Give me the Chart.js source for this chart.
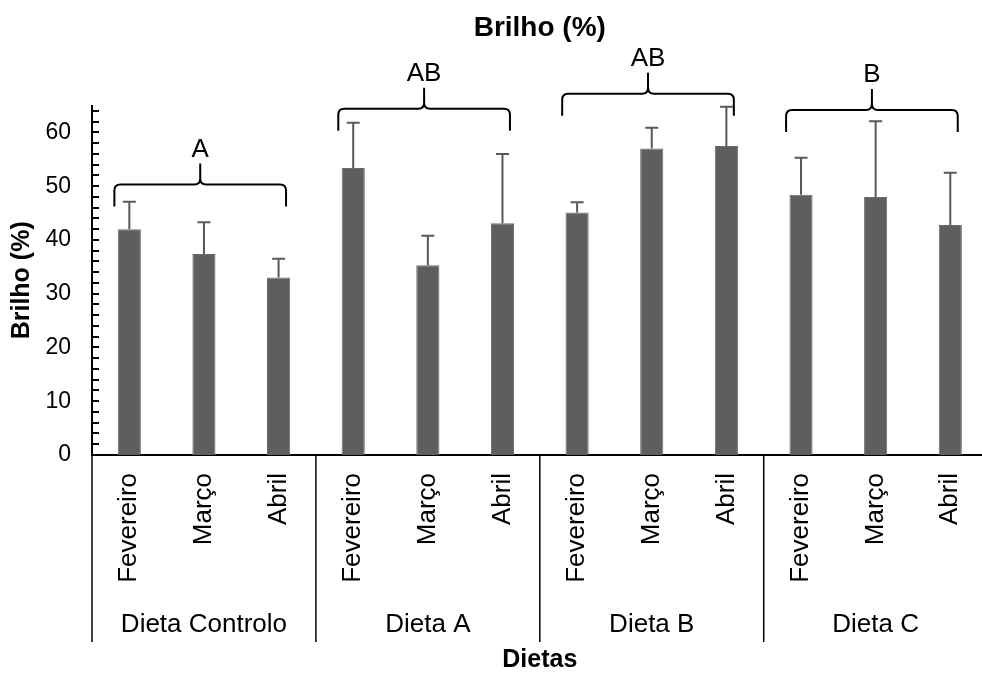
<!DOCTYPE html>
<html>
<head>
    <meta charset="utf-8">
    <title>Brilho (%)</title>
    <script src="https://cdn.jsdelivr.net/npm/chart.js"></script>
    <style>
        body { margin: 0; overflow: hidden; background: #fff; }
        #wrap { width: 1000px; height: 673px; }
    </style>
</head>
<body>
    <div id="wrap"><canvas id="myChart"></canvas></div>
    <script>
        // Data
        const meses = ['Fevereiro', 'Março', 'Abril', 'Fevereiro', 'Março', 'Abril',
                       'Fevereiro', 'Março', 'Abril', 'Fevereiro', 'Março', 'Abril'];
        const brilho = [42.0, 37.4, 33.0, 53.4, 35.3, 43.1, 45.1, 57.0, 57.5, 48.4, 48.0, 42.8];
        const erro = [5.1, 5.9, 3.5, 8.4, 5.5, 12.9, 1.9, 3.9, 7.3, 6.9, 14.1, 9.7];
        const dietas = ['Dieta Controlo', 'Dieta A', 'Dieta B', 'Dieta C'];
        const letras = ['A', 'AB', 'AB', 'B'];
        const nivelChaveta = [50.3, 64.4, 67.2, 64.2];

        Chart.defaults.font.family = "'Liberation Sans', Arial, sans-serif";
        Chart.defaults.color = '#000';

        // error bars, brackets, group labels, separators, inner ticks
        const extras = {
            id: 'extras',
            afterDatasetsDraw(chart) {
                const ctx = chart.ctx;
                const x = chart.scales.x, y = chart.scales.y;
                ctx.save();

                // error bars (plus only)
                ctx.strokeStyle = '#595959';
                ctx.lineWidth = 2;
                brilho.forEach((v, i) => {
                    const px = x.getPixelForValue(i);
                    const y0 = y.getPixelForValue(v);
                    const y1 = y.getPixelForValue(v + erro[i]);
                    ctx.beginPath();
                    ctx.moveTo(px, y0);
                    ctx.lineTo(px, y1);
                    ctx.moveTo(px - 6.5, y1);
                    ctx.lineTo(px + 6.5, y1);
                    ctx.stroke();
                });

                // y ticks inside axis every 2
                ctx.strokeStyle = '#000';
                ctx.lineWidth = 2;
                for (let v = 0; v <= 64; v += 2) {
                    const py = Math.round(y.getPixelForValue(v));
                    ctx.beginPath();
                    ctx.moveTo(x.left, py);
                    ctx.lineTo(x.left + 7, py);
                    ctx.stroke();
                }

                // brackets with letters
                ctx.lineWidth = 2;
                ctx.strokeStyle = '#000';
                ctx.fillStyle = '#000';
                ctx.font = "26px 'Liberation Sans', Arial";
                ctx.textAlign = 'center';
                ctx.textBaseline = 'alphabetic';
                const step = x.getPixelForValue(1) - x.getPixelForValue(0);
                dietas.forEach((d, g) => {
                    const left = x.getPixelForValue(g * 3) - 0.2 * step;
                    const right = x.getPixelForValue(g * 3 + 2) + 0.1 * step;
                    const mid = (left + right) / 2;
                    const ly = y.getPixelForValue(nivelChaveta[g]);
                    const drop = 22, r = 6, peak = 21;
                    ctx.beginPath();
                    ctx.moveTo(left, ly + drop);
                    ctx.lineTo(left, ly + r);
                    ctx.quadraticCurveTo(left, ly, left + r, ly);
                    ctx.lineTo(mid - r, ly);
                    ctx.quadraticCurveTo(mid, ly, mid, ly - r);
                    ctx.lineTo(mid, ly - peak);
                    ctx.moveTo(mid, ly - r);
                    ctx.quadraticCurveTo(mid, ly, mid + r, ly);
                    ctx.lineTo(right - r, ly);
                    ctx.quadraticCurveTo(right, ly, right, ly + r);
                    ctx.lineTo(right, ly + drop);
                    ctx.stroke();
                    ctx.fillText(letras[g], mid, ly - peak - 7);
                });

                // group separators and labels
                ctx.lineWidth = 1.5;
                const bounds = [x.left];
                for (let g = 1; g < dietas.length; g++) {
                    bounds.push((x.getPixelForValue(g * 3 - 1) + x.getPixelForValue(g * 3)) / 2);
                }
                bounds.push(x.right);
                bounds.forEach(b => {
                    ctx.beginPath();
                    ctx.moveTo(b, y.bottom);
                    ctx.lineTo(b, y.bottom + 187);
                    ctx.stroke();
                });
                ctx.textBaseline = 'middle';
                dietas.forEach((d, g) => {
                    ctx.fillText(d, (bounds[g] + bounds[g + 1]) / 2, 625);
                });
                ctx.restore();
            }
        };

        const ctx = document.getElementById('myChart').getContext('2d');
        new Chart(ctx, {
            type: 'bar',
            data: {
                labels: meses,
                datasets: [{
                    data: brilho,
                    backgroundColor: '#5e5e5e',
                    borderColor: '#6a6a6a',
                    borderWidth: 1,
                    barPercentage: 0.31,
                    categoryPercentage: 1
                }]
            },
            options: {
                responsive: true,
                maintainAspectRatio: false,
                animation: false,
                layout: { padding: { left: 0, right: 7, top: 0, bottom: 0 } },
                scales: {
                    x: {
                        grid: { display: false, drawTicks: false },
                        border: { display: true, color: '#000', width: 2 },
                        ticks: {
                            autoSkip: false,
                            minRotation: 90,
                            maxRotation: 90,
                            padding: 18,
                            font: { size: 26 }
                        },
                        title: {
                            display: true,
                            text: 'Dietas',
                            font: { size: 25, weight: 'bold', lineHeight: 1 },
                            padding: { top: 0, bottom: 0 }
                        },
                        afterFit(scale) { scale.height = 218; }
                    },
                    y: {
                        min: 0,
                        max: 65,
                        grid: { display: false, drawTicks: false },
                        border: { display: true, color: '#000', width: 2 },
                        ticks: {
                            stepSize: 10,
                            padding: 21,
                            font: { size: 23 }
                        },
                        afterBuildTicks(scale) {
                            scale.ticks = scale.ticks.filter(t => t.value % 10 === 0);
                        },
                        title: {
                            display: true,
                            text: 'Brilho (%)',
                            font: { size: 25, weight: 'bold', lineHeight: 1 },
                            padding: { top: 10, bottom: 0 }
                        },
                        afterFit(scale) { scale.width = 92; }
                    }
                },
                plugins: {
                    legend: { display: false },
                    tooltip: { enabled: false },
                    title: {
                        display: true,
                        text: 'Brilho (%)',
                        fullSize: false,
                        font: { size: 28, weight: 'bold' },
                        padding: { top: 11, bottom: 61 }
                    }
                }
            },
            plugins: [extras]
        });
    </script>
</body>
</html>
